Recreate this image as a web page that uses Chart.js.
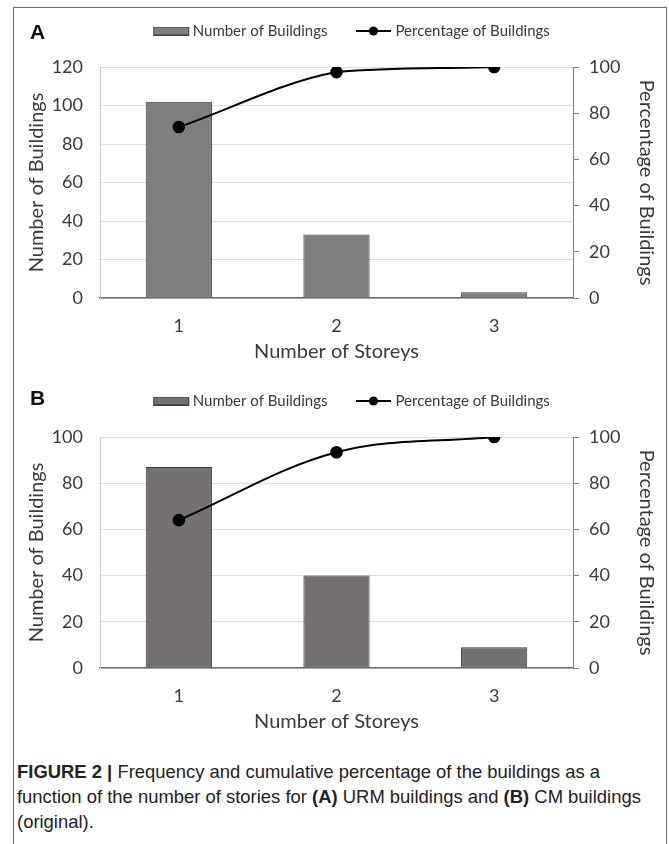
<!DOCTYPE html>
<html>
<head>
<meta charset="utf-8">
<script src="https://cdn.jsdelivr.net/npm/chart.js@4/dist/chart.umd.min.js"></script>
<style>
  body { margin: 0; background: #fff; width: 669px; height: 844px; overflow: hidden; position: relative; }
  .frame { position: absolute; left: 13px; top: 7px; width: 652px; height: 850px; border: 1px solid #6b6b6b; }
  .panel { position: absolute; left: 0; width: 669px; height: 370px; }
  .tag { position: absolute; left: 30px; font: bold 21px "Liberation Sans", Arial, sans-serif; color: #111; }
  .caption { position: absolute; left: 17px; top: 759px; width: 680px; font: 19px "Liberation Sans", Arial, sans-serif; line-height: 25px; color: #222; transform: scaleX(0.97); transform-origin: left top; white-space: nowrap; }
</style>
</head>
<body>
<div class="frame"></div>
<div class="panel" style="top:0"><canvas id="chartA" width="669" height="370"></canvas></div>
<div class="panel" style="top:370px"><canvas id="chartB" width="669" height="370"></canvas></div>
<div class="tag" style="top:20px">A</div>
<div class="tag" style="top:386px">B</div>
<div class="caption"><b>FIGURE 2 |</b> Frequency and cumulative percentage of the buildings as a<br>function of the number of stories for <b>(A)</b> URM buildings and <b>(B)</b> CM buildings<br>(original).</div>

<script>
// data
const storeys = ["1", "2", "3"];
const buildingsA = [102, 33, 3];
const percentA = [74, 97.8, 100];
const buildingsB = [87, 40, 9];
const percentB = [64, 93.4, 100];
const countMaxA = 120;
const countMaxB = 100;
const tickStep = 20;

const textColor = "#3a3a3a";
const font = "Lato, 'Open Sans', sans-serif";

// legend swatches, drawn a little right of centre so the text sits close
function swatchBar(fill, stroke) {
  const c = document.createElement("canvas");
  c.width = 42; c.height = 9;
  const g = c.getContext("2d");
  g.fillStyle = fill;
  g.fillRect(5, 0, 36, 9);
  g.strokeStyle = stroke;
  g.strokeRect(5.5, 0.5, 35, 8);
  return c;
}

function swatchLine() {
  const c = document.createElement("canvas");
  c.width = 42; c.height = 10;
  const g = c.getContext("2d");
  g.strokeStyle = "#000";
  g.lineWidth = 2;
  g.beginPath(); g.moveTo(5, 5); g.lineTo(40, 5); g.stroke();
  g.fillStyle = "#000";
  g.beginPath(); g.arc(22.5, 5, 4.5, 0, Math.PI * 2); g.fill();
  return c;
}

// push the plot area down below the legend, and nudge the legend itself
const legendSpace = {
  id: "legendSpace",
  beforeInit(chart) {
    const fit = chart.legend.fit;
    chart.legend.fit = function () {
      fit.bind(chart.legend)();
      this.height = 57;
    };
  },
  afterLayout(chart) {
    chart.legend.left += 20;
    chart.legend.top = -5;
  }
};

function makeChart(id, counts, percents, countMax, barFill, barStroke) {
  const ctx = document.getElementById(id).getContext("2d");
  const swatches = [swatchBar(barFill, barStroke), swatchLine()];
  return new Chart(ctx, {
    type: "bar",
    data: {
      labels: storeys,
      datasets: [
        {
          label: "Number of Buildings",
          data: counts,
          backgroundColor: barFill,
          borderColor: barStroke,
          borderWidth: 1,
          barPercentage: 0.42,
          categoryPercentage: 1,
          yAxisID: "y",
          order: 2
        },
        {
          type: "line",
          label: "Percentage of Buildings",
          data: percents,
          borderColor: "#000",
          borderWidth: 2,
          backgroundColor: "#000",
          pointRadius: 5.3,
          pointStyle: "circle",
          pointBackgroundColor: "#000",
          tension: 0.35,
          yAxisID: "y1",
          order: 1
        }
      ]
    },
    options: {
      responsive: false,
      animation: false,
      layout: { padding: { left: 21, right: 7, top: 10, bottom: 2 } },
      plugins: {
        tooltip: { enabled: false },
        legend: {
          position: "top",
          labels: {
            usePointStyle: true,
            pointStyleWidth: 32,
            padding: 28.5,
            color: textColor,
            font: { family: font, size: 15 },
            sort: (a, b) => a.datasetIndex - b.datasetIndex,
            generateLabels: chart => {
              const items = Chart.defaults.plugins.legend.labels.generateLabels(chart);
              items.forEach(it => { it.pointStyle = swatches[it.datasetIndex]; });
              return items;
            }
          }
        }
      },
      scales: {
        x: {
          grid: { display: false, drawTicks: false },
          border: { display: true, color: "#6b6b6b", width: 1.5 },
          ticks: { color: textColor, font: { family: font, size: 18 }, padding: 17 },
          title: { display: true, text: "Number of Storeys", color: textColor, font: { family: font, size: 20 }, padding: { top: 0, bottom: 4 } },
          afterFit: s => { s.height = 70; }
        },
        y: {
          position: "left",
          min: 0,
          max: countMax,
          ticks: { stepSize: tickStep, color: textColor, font: { family: font, size: 18 }, padding: 17 },
          grid: { color: "#dcdcdc", drawTicks: false },
          border: { color: "#c8c8c8" },
          title: { display: true, text: "Number of Buildings", color: textColor, font: { family: font, size: 20 }, padding: { top: 4, bottom: 4 } },
          afterFit: s => { s.width = 79; }
        },
        y1: {
          position: "right",
          min: 0,
          max: 100,
          ticks: { stepSize: tickStep, color: textColor, font: { family: font, size: 18 }, padding: 10 },
          grid: { drawOnChartArea: false, color: "#7f7f7f", tickLength: 6 },
          border: { color: "#7f7f7f" },
          title: { display: true, text: "Percentage of Buildings", color: textColor, font: { family: font, size: 20 }, padding: { top: 4, bottom: 4 } },
          afterFit: s => { s.width = 89; }
        }
      }
    },
    plugins: [legendSpace]
  });
}

makeChart("chartA", buildingsA, percentA, countMaxA, "#7f7f7f", "#3f3f3f");
makeChart("chartB", buildingsB, percentB, countMaxB, "#767171", "#3a3838");
</script>
</body>
</html>
